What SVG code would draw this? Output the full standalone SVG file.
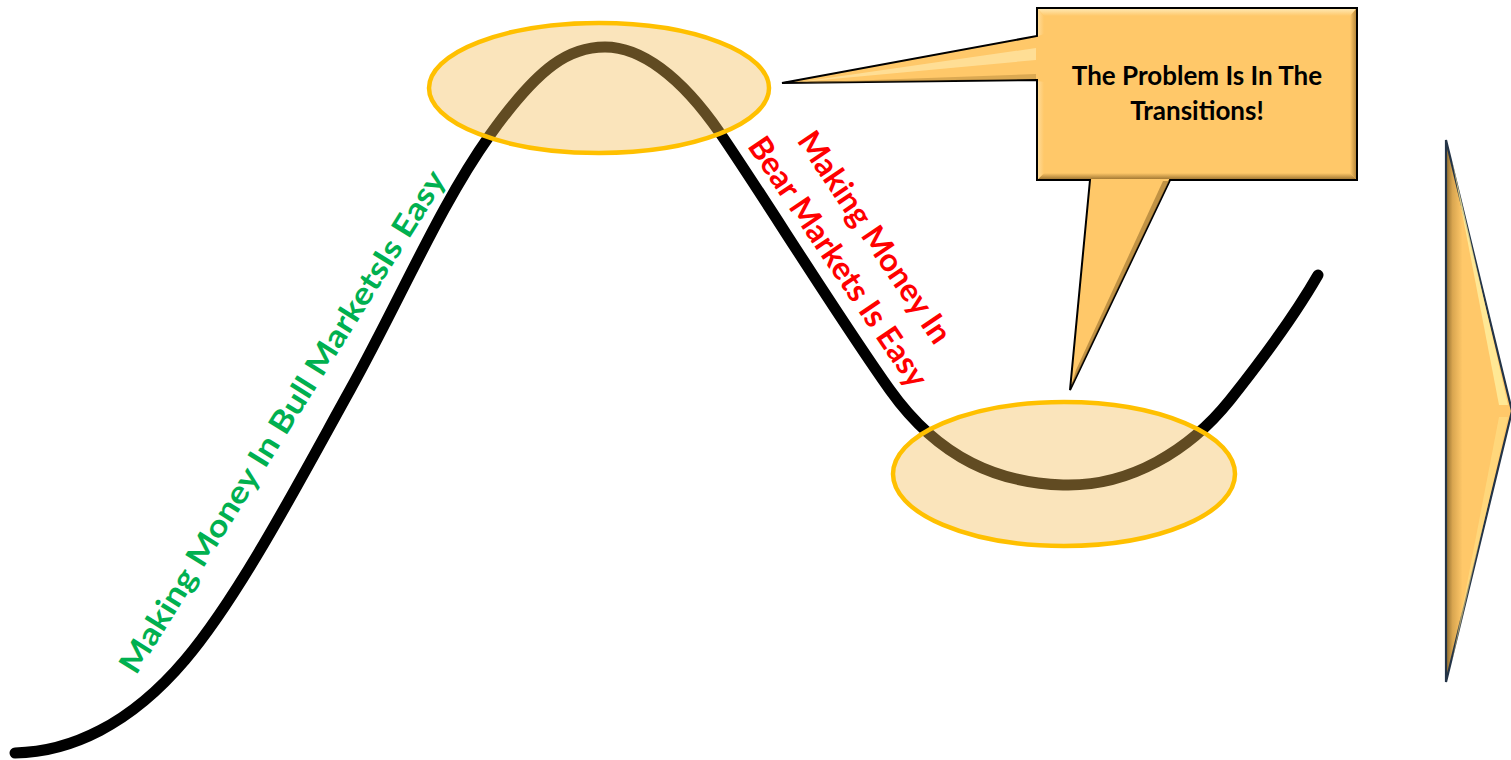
<svg xmlns="http://www.w3.org/2000/svg" width="1511" height="760" viewBox="0 0 1511 760">
  <style>
    .curve { fill: none; stroke: #000; stroke-width: 11; stroke-linecap: round; stroke-linejoin: round; }
    .zone { fill: #F2BB55; fill-opacity: 0.4; stroke: #FFC000; stroke-width: 4.5; }
    .lbl { font-family: Lato, "Open Sans", "Liberation Sans", sans-serif; font-weight: 700; }
    .bull { fill: #00B050; font-size: 31px; }
    .bear { fill: #FF0000; font-size: 32px; text-anchor: middle; }
    .note { fill: #000; font-size: 26px; text-anchor: middle; }
  </style>
  <defs>
    <linearGradient id="arrowFill" x1="0" y1="0" x2="1" y2="0">
      <stop offset="0" stop-color="#8C6A2E"/>
      <stop offset="0.1" stop-color="#D9A650"/>
      <stop offset="0.25" stop-color="#FFC869"/>
      <stop offset="1" stop-color="#FFC869"/>
    </linearGradient>
    <linearGradient id="bevelTop" x1="0" y1="0" x2="0" y2="1">
      <stop offset="0" stop-color="#FFE7B0"/>
      <stop offset="1" stop-color="#FFC869"/>
    </linearGradient>
    <linearGradient id="bevelBottom" x1="0" y1="0" x2="0" y2="1">
      <stop offset="0" stop-color="#FFC869"/>
      <stop offset="1" stop-color="#A57A34"/>
    </linearGradient>
    <linearGradient id="bevelRight" x1="0" y1="0" x2="1" y2="0">
      <stop offset="0" stop-color="#FFC869"/>
      <stop offset="1" stop-color="#B8893B"/>
    </linearGradient>
    <linearGradient id="bevelLeft" x1="0" y1="0" x2="1" y2="0">
      <stop offset="0" stop-color="#FFDA95"/>
      <stop offset="1" stop-color="#FFC869"/>
    </linearGradient>
  </defs>

  <!-- market cycle line -->
  <g id="connectors">
    <path class="curve" d="M15,753 C70,752 130,725 185,660 C240,595 300,480 350,390 C400,300 440,205 490,135 C540,65 570,47 605,47 C640,47 680,75 720,133 C760,191 840,320 890,390 C940,460 1000,483 1063,485 C1130,487 1190,450 1230,400 C1265,356 1295,315 1318,275"/>
  </g>

  <!-- transition zones -->
  <g id="top-zone">
    <ellipse class="zone" cx="599" cy="88" rx="170" ry="65"/>
  </g>
  <g id="bottom-zone">
    <ellipse class="zone" cx="1064" cy="474" rx="171" ry="72"/>
  </g>

  <!-- rising leg label -->
  <g id="bull-label">
    <text class="lbl bull" transform="translate(136,676) rotate(-58)" textLength="586" lengthAdjust="spacingAndGlyphs">Making Money In Bull MarketsIs Easy</text>
  </g>

  <!-- falling leg label -->
  <g id="bear-label" transform="translate(829,268) rotate(56)">
    <text class="lbl bear" x="0" y="-44">Making Money In</text>
    <text class="lbl bear" x="0" y="0">Bear Markets Is Easy</text>
  </g>

  <!-- callout -->
  <g id="callout">
    <path d="M1037,8 H1357 V180 H1170 L1070,390 L1090,180 H1037 V80 L782,83 L1037,36 Z" fill="#FFC869" stroke="#000" stroke-width="2" stroke-linejoin="miter"/>
    <!-- bevel on box edges -->
    <polygon points="1038,9 1356,9 1350,16 1044,16" fill="url(#bevelTop)"/>
    <polygon points="1044,173 1350,173 1356,179 1038,179" fill="url(#bevelBottom)"/>
    <polygon points="1350,16 1356,9 1356,179 1350,173" fill="url(#bevelRight)"/>
    <polygon points="1038,9 1044,16 1044,34 1038,36" fill="url(#bevelLeft)"/>
    <polygon points="1038,81 1044,82 1044,173 1038,179" fill="url(#bevelLeft)"/>
    <!-- pointer shading -->
    <polygon points="800,82 1036,48 1036,60" fill="#FFE3A0" opacity="0.8"/>
    <polygon points="790,83 1036,74 1036,79" fill="#B8893B" opacity="0.5"/>
    <polygon points="1163,181 1169,181 1071,387 1076,370" fill="#A57A34" opacity="0.7"/>
    <text class="lbl note" x="1197" y="85">The Problem Is In The</text>
    <text class="lbl note" x="1197" y="120">Transitions!</text>
  </g>

  <!-- right-hand arrow -->
  <g id="right-arrow">
    <path d="M1446,140 L1512,411 L1446,682 Z" fill="url(#arrowFill)" stroke="#243447" stroke-width="2.2" stroke-linejoin="miter"/>
    <path d="M1452,160 L1508,405 L1499,405 Z" fill="#FFF0A0" opacity="0.8"/>
    <path d="M1452,662 L1508,417 L1499,417 Z" fill="#FFE38A" opacity="0.55"/>
  </g>
</svg>
